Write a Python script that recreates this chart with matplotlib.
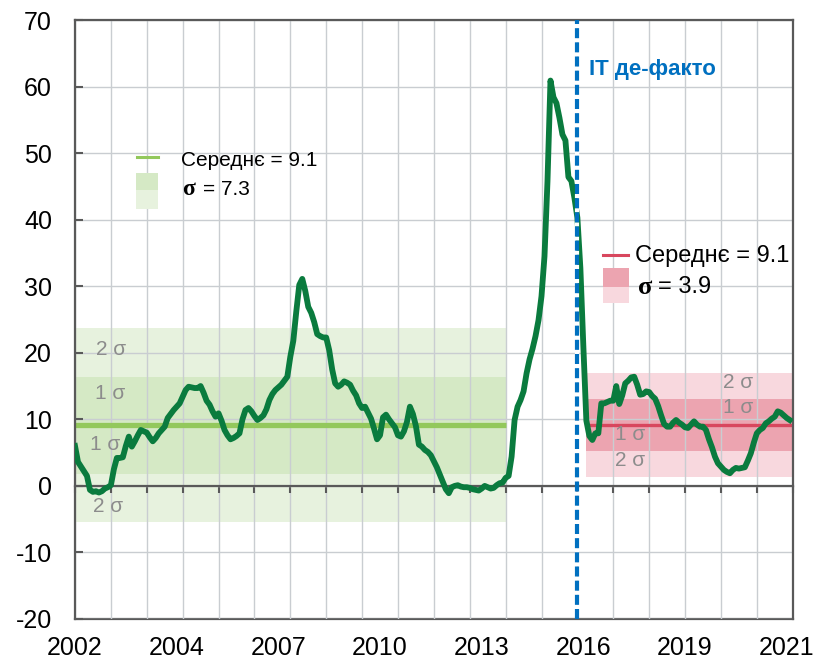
import numpy as np
import matplotlib
matplotlib.use('Agg')
import matplotlib.pyplot as plt
from matplotlib.patches import Rectangle
from matplotlib.lines import Line2D

plt.rcParams['font.family'] = ['Liberation Sans', 'DejaVu Sans']
plt.rcParams['axes.unicode_minus'] = False

# ---- data (monthly CPI, % y/y) ----
start_year = 2002
y2002 = [6.0, 3.6, 2.9, 2.2, 1.5, -0.6, -0.9, -0.8, -1.0, -0.8, -0.4, -0.2]
y2003 = [0.1, 2.5, 4.2, 4.2, 4.3, 6.0, 7.4, 5.9, 6.7, 7.6, 8.4, 8.2]
y2004 = [8.0, 7.3, 6.7, 7.2, 7.9, 8.4, 8.9, 10.2, 10.8, 11.4, 11.9, 12.4]
y2005 = [13.4, 14.4, 14.9, 14.8, 14.7, 14.7, 15.0, 14.0, 12.8, 12.2, 11.2, 10.4]
y2006 = [10.9, 9.8, 8.4, 7.6, 7.0, 7.2, 7.5, 7.9, 10.0, 11.4, 11.7, 11.2]
y2007 = [10.5, 9.9, 10.2, 10.6, 11.5, 12.9, 13.8, 14.4, 14.8, 15.2, 15.8, 16.4]
y2008 = [19.4, 21.8, 26.2, 30.2, 31.1, 29.3, 26.9, 26.0, 24.6, 22.8, 22.5, 22.3]
y2009 = [22.3, 20.4, 17.5, 15.4, 14.9, 15.2, 15.7, 15.5, 15.2, 14.3, 13.6, 12.4]
y2010 = [11.7, 11.9, 11.0, 10.1, 8.6, 7.0, 7.6, 10.3, 10.7, 10.0, 9.4, 8.8]
y2011 = [7.6, 7.4, 8.2, 9.6, 11.9, 10.8, 9.0, 6.2, 5.9, 5.4, 5.1, 4.6]
y2012 = [3.7, 2.8, 1.7, 0.6, -0.5, -1.1, -0.2, 0.0, 0.1, -0.1, -0.2, -0.2]
y2013 = [-0.3, -0.5, -0.6, -0.7, -0.4, 0.0, -0.2, -0.4, -0.3, 0.1, 0.4, 0.5]
y2014 = [1.2, 1.5, 4.4, 9.9, 11.9, 12.9, 14.2, 16.9, 19.0, 20.6, 22.5, 24.9]
y2015 = [28.5, 34.5, 45.8, 60.9, 58.4, 57.5, 55.3, 52.8, 51.9, 46.4, 45.8, 43.3]
y2016 = [40.3, 32.7, 20.9, 9.8, 7.5, 6.9, 7.9, 7.9, 12.4, 12.4, 12.6, 12.8]
y2017 = [12.8, 15.0, 12.3, 13.6, 15.4, 15.8, 16.3, 16.4, 15.2, 13.7, 13.8, 14.2]
y2018 = [14.1, 13.5, 13.1, 12.0, 10.6, 9.3, 8.9, 8.9, 9.5, 9.9, 9.5, 9.2]
y2019 = [8.8, 8.7, 9.2, 9.7, 9.2, 8.9, 8.9, 8.4, 7.0, 5.8, 4.4, 3.4]
y2020 = [2.9, 2.4, 2.1, 1.9, 2.4, 2.7, 2.6, 2.7, 2.8, 3.8, 4.9, 6.5]
y2021 = [7.9, 8.4, 8.7, 9.4, 9.7, 10.1, 10.4, 11.2, 11.0, 10.6, 10.2, 9.9]

cpi = np.array(y2002 + y2003 + y2004 + y2005 + y2006 + y2007 + y2008 + y2009 +
               y2010 + y2011 + y2012 + y2013 + y2014 + y2015 + y2016 + y2017 +
               y2018 + y2019 + y2020 + y2021)
t = start_year + np.arange(len(cpi)) / 12.0

pre_mean, pre_sigma = 9.1, 7.3
pre_period = (2002.0, 2014.0)
it_mean, it_sigma = 9.1, 3.9
it_period = (2016.25, 2022.0)
it_start = 2016.0

x_tick_labels = ['2002', '2004', '2007', '2010', '2013', '2016', '2019', '2021']
label_step = 34  # months between x labels
y_ticks = [-20, -10, 0, 10, 20, 30, 40, 50, 60, 70]

# ---- colours ----
line_c = '#0A7B3E'
g_out, g_in, g_mean = '#E7F2DE', '#D5E9C5', '#93C85C'
r_out, r_in, r_mean = '#F8D8DE', '#ECA4B0', '#D8475E'
blue = '#0070C0'
spine_c = '#595959'
grid_c = '#C9CDD1'
sig_c = '#8C8C8C'

W, H = 816, 662
fig = plt.figure(figsize=(W / 100, H / 100), dpi=100)
ax = fig.add_axes([75 / W, 1 - 619 / H, (792.7 - 75) / W, (619 - 20) / H])
ax.set_xlim(2002, 2022)
ax.set_ylim(-20, 70)

# bands
for (x0, x1), m, s, co, ci, cm, lw in [
        (pre_period, pre_mean, pre_sigma, g_out, g_in, g_mean, 3.8),
        (it_period, it_mean, it_sigma, r_out, r_in, r_mean, 2.4)]:
    ax.fill_between([x0, x1], m - 2 * s, m + 2 * s, color=co, lw=0, zorder=1)
    ax.fill_between([x0, x1], m - s, m + s, color=ci, lw=0, zorder=1.1)
    ax.plot([x0, x1], [m, m], color=cm, lw=lw, zorder=2, solid_capstyle='butt')

# main line
ax.plot(t, cpi, color=line_c, lw=4.2, zorder=3, solid_joinstyle='round')

# IT start
ax.axvline(it_start, color=blue, lw=3, dashes=(2.4, 1.0), gapcolor='white', zorder=4)

# grid / axes
ax.set_axisbelow('line')
ax.set_xticks(np.arange(2002, 2023))
ax.set_yticks(y_ticks)
ax.grid(True, color=grid_c, lw=1)
ax.spines['bottom'].set_position(('data', 0))
for sp in ax.spines.values():
    sp.set_color(spine_c)
    sp.set_linewidth(1.6)
ax.spines['bottom'].set_zorder(2.5)
ax.tick_params(axis='x', direction='out', length=5, width=1.5, color=spine_c,
               labelbottom=False)
ax.tick_params(axis='y', direction='in', length=6, width=1.5, color=spine_c,
               labelsize=18, pad=16.5)

sec = ax.secondary_xaxis('bottom')
sec.set_xticks(t[::label_step], labels=x_tick_labels)
sec.tick_params(length=0, pad=12.5, labelsize=18)
sec.spines['bottom'].set_color(spine_c)
sec.spines['bottom'].set_linewidth(1.6)

# sigma labels
def dx(px):
    return 2002 + (px - 75) / ((792.7 - 75) / 20)

def dy(py):
    return (619 - py) / (599 / 90) - 20

for px, py, s in [(96, 349, '2 σ'), (95, 393, '1 σ'), (90, 445, '1 σ'), (93, 506, '2 σ'),
                  (723, 382, '2 σ'), (723, 407, '1 σ'), (615, 434, '1 σ'), (615, 461, '2 σ')]:
    ax.text(dx(px), dy(py), s, color=sig_c, fontsize=15, ha='left', va='center', zorder=5)

ax.text(dx(589), dy(69), 'IT де-факто', color=blue, fontsize=16, fontweight='bold',
        ha='left', va='center', zorder=5)

# legends (figure pixel positions)
def fx(px):
    return px / W

def fy(py):
    return 1 - py / H

fig.add_artist(Line2D([fx(137), fx(158)], [fy(157), fy(157)], color=g_mean, lw=2.2))
fig.text(fx(181), fy(160), 'Середнє = 9.1', fontsize=15, va='center')
fig.add_artist(Rectangle((fx(136), fy(190)), 22 / W, 17 / H, color=g_in, lw=0))
fig.add_artist(Rectangle((fx(136), fy(209)), 22 / W, 19 / H, color=g_out, lw=0))
fig.text(fx(182), fy(190), 'σ', family='Liberation Serif', fontweight='bold',
         fontsize=17, va='center')
fig.text(fx(203), fy(190), '= 7.3', fontsize=15, va='center')

fig.add_artist(Line2D([fx(603), fx(628)], [fy(255), fy(255)], color=r_mean, lw=2.2))
fig.text(fx(635), fy(256), 'Середнє = 9.1', fontsize=17, va='center')
fig.add_artist(Rectangle((fx(603), fy(287)), 26 / W, 19 / H, color=r_in, lw=0))
fig.add_artist(Rectangle((fx(603), fy(303)), 26 / W, 16 / H, color=r_out, lw=0))
fig.text(fx(638), fy(287), 'σ', family='Liberation Serif', fontweight='bold',
         fontsize=19, va='center')
fig.text(fx(658), fy(287), '= 3.9', fontsize=17, va='center')

fig.savefig('out.png', dpi=100)
